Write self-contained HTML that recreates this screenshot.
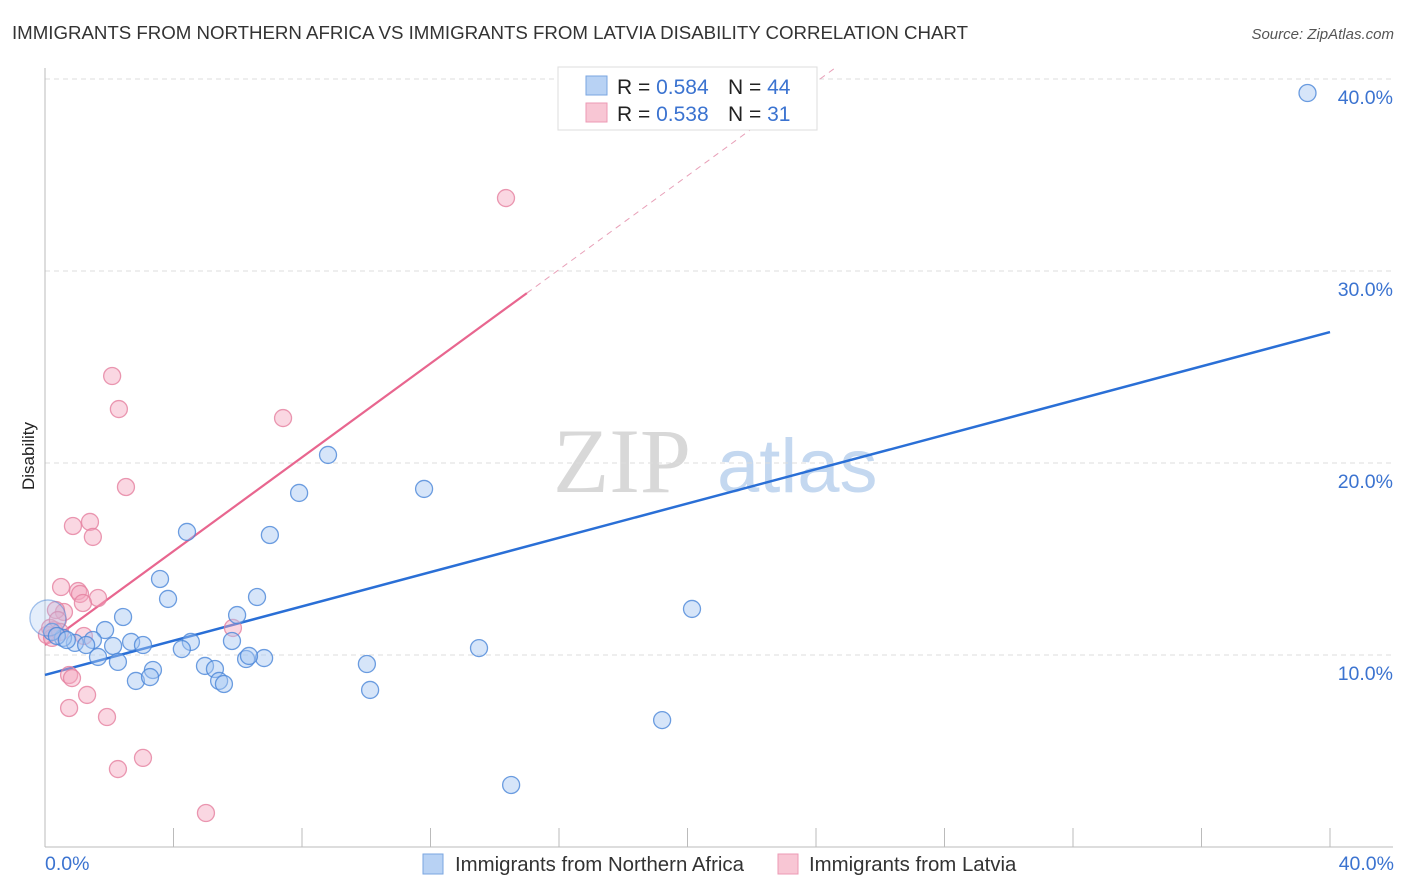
<!DOCTYPE html>
<html><head><meta charset="utf-8"><style>
body{margin:0;background:#fff;font-family:"Liberation Sans",sans-serif;}
svg{display:block}
</style></head><body>
<svg id="chart" width="1406" height="892">
<text x="12" y="39" font-size="18.7" fill="#333" textLength="956">IMMIGRANTS FROM NORTHERN AFRICA VS IMMIGRANTS FROM LATVIA DISABILITY CORRELATION CHART</text>
<text x="1394" y="39" font-size="15" fill="#555" font-style="italic" text-anchor="end">Source: ZipAtlas.com</text>
<text x="34" y="456" font-size="17" fill="#222" transform="rotate(-90 34 456)" text-anchor="middle">Disability</text>
<g><text x="553" y="492" font-size="92" font-family="Liberation Serif,serif" fill="#d8d8d8">ZIP</text><text x="717" y="492" font-size="76" fill="#c4d8f0">atlas</text></g>
<g id="grid"></g><g id="axes"></g><g id="trend"></g><g id="pts"></g>
<g>
<rect x="558" y="67" width="259" height="63" fill="#fff" stroke="#ddd"/>
<rect x="586" y="76" width="21" height="19" fill="#b8d2f4" stroke="#7aa6e0"/>
<rect x="586" y="103" width="21" height="19" fill="#f8c6d4" stroke="#ec9ab4"/>
<text x="617" y="94" font-size="21" fill="#222">R = <tspan fill="#3b73d0">0.584</tspan><tspan x="728">N = </tspan><tspan fill="#3b73d0">44</tspan></text>
<text x="617" y="121" font-size="21" fill="#222">R = <tspan fill="#3b73d0">0.538</tspan><tspan x="728">N = </tspan><tspan fill="#3b73d0"> 31</tspan></text>
</g>
<g>
<rect x="423" y="854" width="20" height="20" fill="#b8d2f4" stroke="#7aa6e0"/>
<text x="455" y="871" font-size="20.4" fill="#333">Immigrants from Northern Africa</text>
<rect x="778" y="854" width="20" height="20" fill="#f8c6d4" stroke="#ec9ab4"/>
<text x="809" y="871" font-size="20.4" fill="#333">Immigrants from Latvia</text>
</g>
</svg>
<script>
const yTicks=[10,20,30,40];
const xTickLabels=["0.0%","40.0%"];
const blueX=[39.3,8.81,7.91,11.8,4.42,7.0,3.58,3.83,6.6,2.43,5.98,1.87,20.14,13.51,5.82,4.54,2.68,3.05,1.49,0.93,1.28,0.56,0.22,4.26,2.12,1.65,2.27,3.36,4.98,5.29,6.26,6.82,6.35,10.02,2.83,3.27,5.42,5.57,10.12,19.21,14.51,0.09,0.37,0.68];
const blueY=[39.27,20.42,18.44,18.65,16.41,16.25,13.96,12.92,13.02,11.98,12.08,11.3,12.4,10.36,10.73,10.68,10.68,10.52,10.78,10.63,10.52,10.89,11.2,10.31,10.47,9.9,9.64,9.22,9.43,9.27,9.79,9.84,9.95,9.53,8.65,8.85,8.65,8.49,8.18,6.61,3.23,11.93,10.99,10.78];
const pinkX=[14.35,2.09,2.3,7.41,2.52,0.87,1.4,1.49,0.5,1.03,1.09,1.65,1.18,0.59,0.34,0.28,0.06,0.16,5.85,1.21,0.75,0.84,1.31,0.75,1.93,3.05,2.27,5.01,0.4,0.22,0.47];
const pinkY=[33.8,24.53,22.81,22.34,18.75,16.72,16.93,16.15,13.54,13.33,13.18,12.97,12.71,12.24,12.34,11.3,11.04,11.41,11.41,10.99,8.96,8.8,7.92,7.24,6.77,4.64,4.06,1.77,11.82,10.89,11.2];
const blueTrend=[8.96,26.82];
const pinkTrend=[10.52,1.222];
const X=v=>45+v/40*1285, Y=v=>847-v*19.2;
const NS="http://www.w3.org/2000/svg";
function mk(p,t,a){const e=document.createElementNS(NS,t);for(const k in a)e.setAttribute(k,a[k]);document.getElementById(p).appendChild(e);return e;}
yTicks.forEach(t=>{
 const l=mk('grid','line',{x1:45,x2:1393,y1:Y(t),y2:Y(t),stroke:'#ddd','stroke-dasharray':'5,4'});
 
 
 const tx=mk('grid','text',{x:1393,y:Y(t)+25,'font-size':19.5,fill:'#3b73d0','text-anchor':'end'});tx.textContent=t.toFixed(1)+'%';
 
 
});
let ax=mk('axes','line',{x1:45,x2:1393,y1:847,y2:847,stroke:'#bbb'});


let ay=mk('axes','line',{x1:45,x2:45,y1:68,y2:847,stroke:'#bbb'});


for(let i=1;i<=10;i++){const t=mk('axes','line',{x1:X(i*4),x2:X(i*4),y1:828,y2:847,stroke:'#bbb'});
 
 }
[[0,'start',45],[40,'end',1394]].forEach((d,i)=>{const t=mk('axes','text',{x:d[2],y:870,'font-size':19.5,fill:'#3b73d0','text-anchor':d[1]});t.textContent=xTickLabels[i];
 
 });
function pts(xs,ys,fill,stroke,name){xs.forEach((x,i)=>{const big=(name==='blue-point'&&i===41);
 const c=mk('pts','circle',{cx:X(x),cy:Y(ys[i]),r:big?18:8.5,fill:fill,'fill-opacity':big?0.3:0.45,stroke:stroke,'stroke-width':1.3,'stroke-opacity':big?0.5:0.8});
 
 });}
pts(pinkX,pinkY,'#f4a6be','#e57f9f','pink-point');
pts(blueX,blueY,'#a4c6f2','#4a86d8','blue-point');
const bl=mk('trend','line',{x1:X(0),y1:Y(blueTrend[0]),x2:X(40),y2:Y(blueTrend[1]),stroke:'#2a6fd6','stroke-width':2.5});


const pl=mk('trend','line',{x1:X(0),y1:Y(pinkTrend[0]),x2:X(15),y2:Y(pinkTrend[0]+15*pinkTrend[1]),stroke:'#e8668f','stroke-width':2.2});


const pd=mk('trend','line',{x1:X(15),y1:Y(pinkTrend[0]+15*pinkTrend[1]),x2:X(24.6),y2:Y(pinkTrend[0]+24.6*pinkTrend[1]),stroke:'#e8a0b8','stroke-width':1,'stroke-dasharray':'6,5'});


</script>
</body></html>
